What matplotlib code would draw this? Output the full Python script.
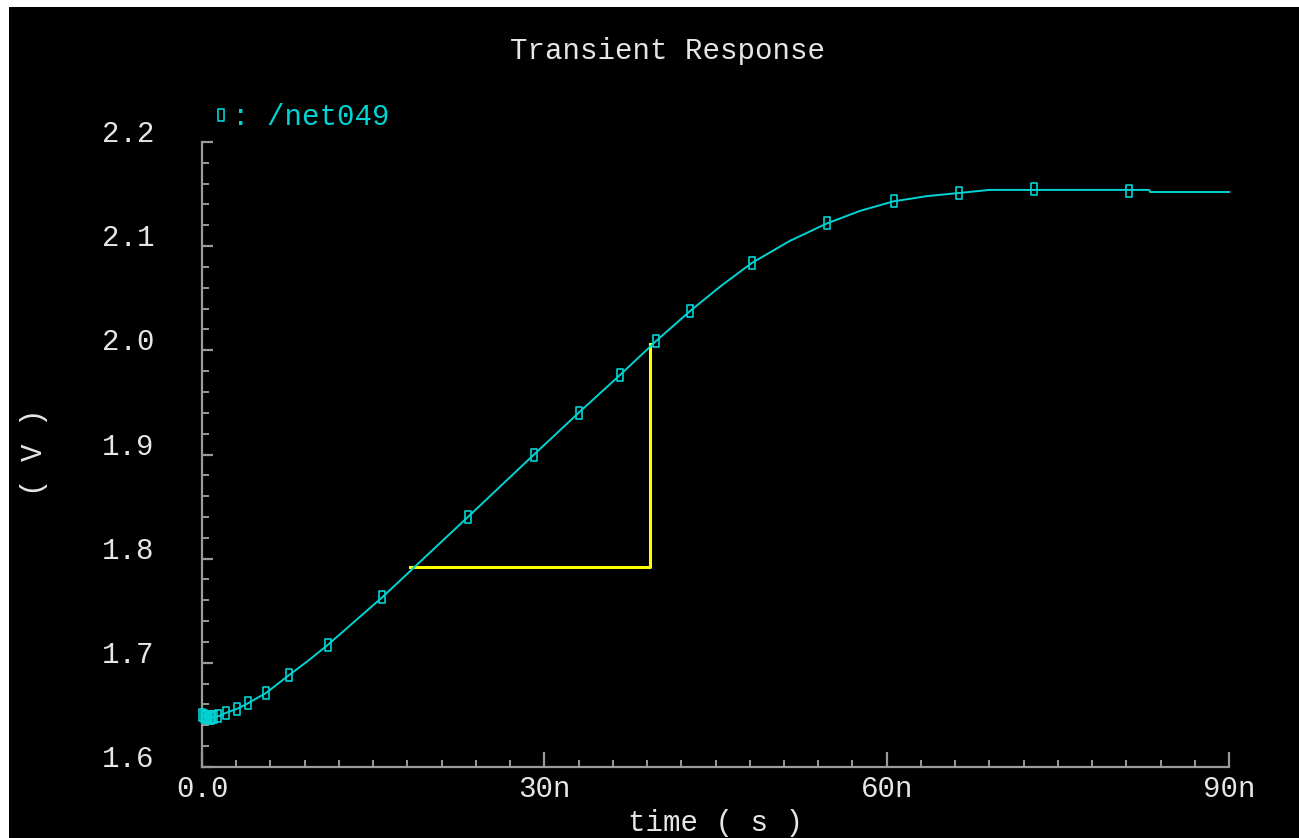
import numpy as np
import matplotlib
matplotlib.use("Agg")
import matplotlib.pyplot as plt
from matplotlib.path import Path
from matplotlib.lines import Line2D
from matplotlib.patches import Rectangle

# ---------------- data ----------------
# curve of /net049 (time in ns, voltage in V)
curve_t = [0.0, 0.3, 0.7, 1.1, 1.5, 2.1, 3.1, 4.0, 5.6, 7.6, 9.3, 11.0, 13.4,
           15.8, 19.5, 23.3, 26.2, 29.1, 33.0, 36.6, 39.8, 42.8, 45.5, 48.2,
           51.5, 54.8, 57.7, 60.6, 63.5, 66.3, 69.0, 72.9, 81.2, 83.0, 83.1,
           90.0]
curve_v = [1.650, 1.648, 1.647, 1.648, 1.649, 1.652, 1.656, 1.661, 1.671,
           1.688, 1.702, 1.717, 1.740, 1.763, 1.801, 1.840, 1.870, 1.900,
           1.940, 1.976, 2.009, 2.038, 2.062, 2.084, 2.105, 2.122, 2.134,
           2.143, 2.148, 2.151, 2.154, 2.154, 2.154, 2.154, 2.152, 2.152]
# marker positions along the trace
marker_t = [0.0, 0.15, 0.3, 0.45, 0.6, 0.75, 0.9, 1.05, 1.4, 2.1, 3.1, 4.0,
            5.6, 7.6, 11.0, 15.8, 23.3, 29.1, 33.0, 36.6, 39.8, 42.8, 48.2,
            54.8, 60.6, 66.3, 72.9, 81.2]
marker_v = [1.650, 1.649, 1.648, 1.648, 1.647, 1.647, 1.648, 1.648, 1.649,
            1.652, 1.656, 1.661, 1.671, 1.688, 1.717, 1.763, 1.840, 1.900,
            1.940, 1.976, 2.009, 2.038, 2.084, 2.122, 2.143, 2.151, 2.155,
            2.153]
# yellow slope-measurement triangle (time ns, voltage V)
tri_t = [18.2, 39.3, 39.3]
tri_v = [1.792, 1.792, 2.006]

xticks = [0, 30, 60, 90]
xtick_labels = ["0.0", "30n", "60n", "90n"]
yticks = [1.6, 1.7, 1.8, 1.9, 2.0, 2.1, 2.2]
ytick_labels = ["1.6", "1.7", "1.8", "1.9", "2.0", "2.1", "2.2"]
title = "Transient Response"
xlabel = "time ( s )"
ylabel = "( V )"
trace_name = ": /net049"

# ---------------- style ----------------
W, H = 1299, 838
FONT = "Liberation Mono"
FS = 21
TXT = "#e6e6e6"
AXC = "#9a9a9a"
CYAN = "#00d4d4"
YEL = "#ffff00"

rect_marker = Path([(-0.22, -0.5), (0.22, -0.5), (0.22, 0.5), (-0.22, 0.5),
                    (-0.22, -0.5)],
                   [Path.MOVETO, Path.LINETO, Path.LINETO, Path.LINETO,
                    Path.CLOSEPOLY])

fig = plt.figure(figsize=(W / 100, H / 100), dpi=100, facecolor="white")
fig.add_artist(Rectangle((9 / W, 0), 1 - 9 / W, 1 - 7 / H,
                         transform=fig.transFigure, facecolor="black",
                         edgecolor="none", zorder=-10))

ax = fig.add_axes([202 / W, 71 / H, 1027 / W, 625 / H])
ax.set_facecolor("none")
ax.set_xlim(0, 90)
ax.set_ylim(1.6, 2.2)

ax.plot(curve_t, curve_v, color=CYAN, lw=1.4, clip_on=False, zorder=3)
ax.plot(marker_t, marker_v, ls="none", marker=rect_marker, ms=8.5,
        mfc="none", mec=CYAN, mew=1.2, clip_on=False, zorder=4)
ax.plot(tri_t, tri_v, color=YEL, lw=2.2, zorder=2)

for s in ["top", "right"]:
    ax.spines[s].set_visible(False)
for s in ["left", "bottom"]:
    ax.spines[s].set_color(AXC)
    ax.spines[s].set_linewidth(1.6)

ax.set_xticks(xticks)
ax.set_xticklabels(xtick_labels)
ax.set_xticks(np.arange(0, 90.1, 3), minor=True)
ax.set_yticks(yticks)
ax.set_yticklabels(ytick_labels)
ax.set_yticks(np.arange(1.6, 2.2001, 0.02), minor=True)

ax.tick_params(axis="x", which="major", direction="in", length=11, width=1.6,
               color=AXC, pad=6, labelsize=FS, labelcolor=TXT)
ax.tick_params(axis="x", which="minor", direction="in", length=5, width=1.4,
               color=AXC)
ax.tick_params(axis="y", which="major", direction="in", length=8, width=1.6,
               color=AXC, pad=34, labelsize=FS, labelcolor=TXT)
ax.tick_params(axis="y", which="minor", direction="in", length=5, width=1.4,
               color=AXC)
for lab in ax.get_xticklabels() + ax.get_yticklabels():
    lab.set_fontfamily(FONT)
for lab in ax.get_yticklabels():
    lab.set_va("baseline")

fig.text(667 / W, 1 - 59 / H, title, ha="center", va="baseline",
         fontsize=FS, color=TXT, fontfamily=FONT)
fig.text(715 / W, 1 / H, xlabel, ha="center", va="bottom",
         fontsize=FS, color=TXT, fontfamily=FONT)
fig.text(34 / W, 1 - 452 / H, ylabel, ha="center", va="center",
         rotation=90, fontsize=FS, color=TXT, fontfamily=FONT)

handle = Line2D([], [], ls="none", marker=rect_marker, ms=8.5, mfc="none",
                mec=CYAN, mew=1.2)
leg = ax.legend([handle], [trace_name], loc="lower left",
                bbox_to_anchor=(212 / W, 1 - 131 / H),
                bbox_transform=fig.transFigure, frameon=False,
                handlelength=0.6, handletextpad=0.1, borderpad=0,
                borderaxespad=0, prop={"family": FONT, "size": FS})
for t in leg.get_texts():
    t.set_color(CYAN)

fig.savefig("out.png", dpi=100, facecolor=fig.get_facecolor())
